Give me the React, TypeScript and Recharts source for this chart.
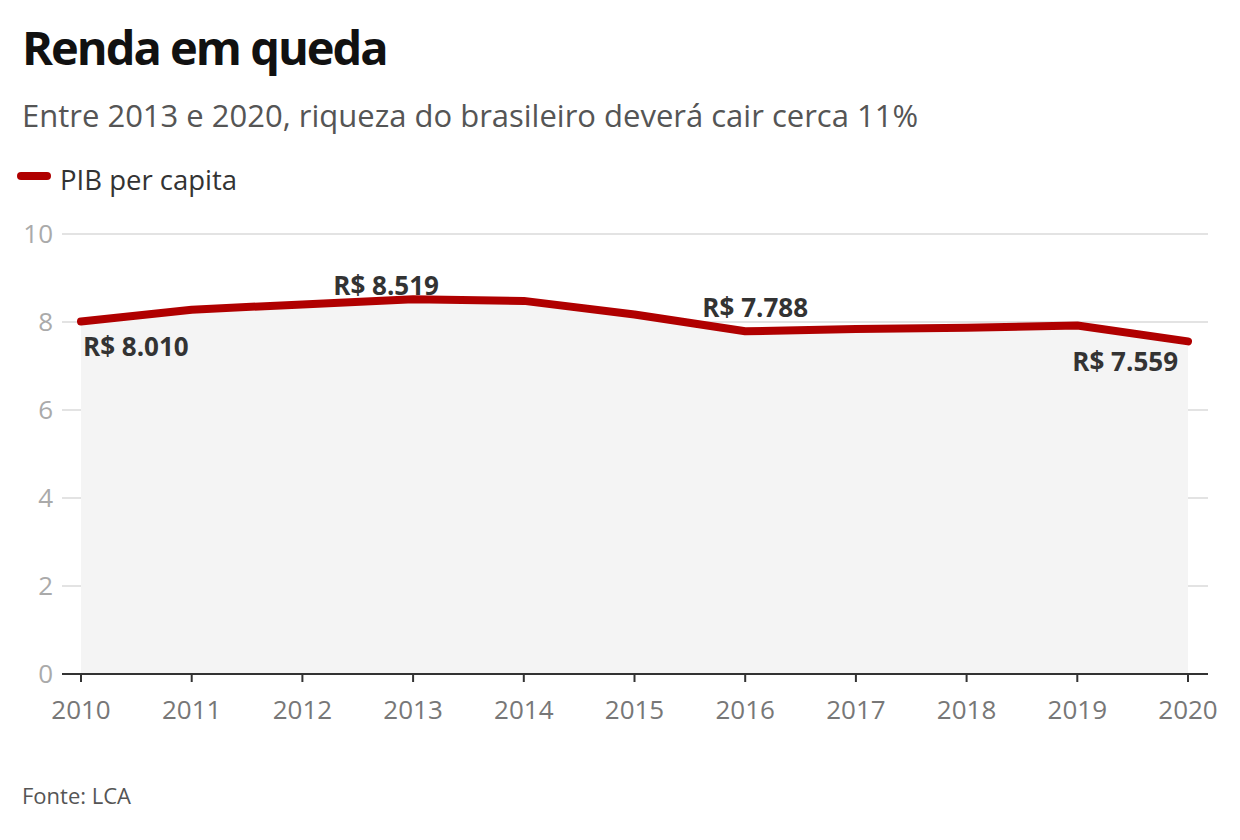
import React from "react";
import { ComposedChart, Area, XAxis, YAxis, CartesianGrid, LabelList } from "recharts";

const years = [2010, 2011, 2012, 2013, 2014, 2015, 2016, 2017, 2018, 2019, 2020];
const pibPerCapita = [8.01, 8.28, 8.4, 8.519, 8.48, 8.17, 7.788, 7.84, 7.87, 7.92, 7.559];
const valueLabels = ["R$ 8.010", "", "", "R$ 8.519", "", "", "R$ 7.788", "", "", "", "R$ 7.559"];
const yTicks = [0, 2, 4, 6, 8, 10];

const data = years.map((year, i) => ({
  year,
  pib: pibPerCapita[i],
  label: valueLabels[i],
}));

const FONT = "'Open Sans', 'Noto Sans', sans-serif";
const RED = "#b00000";

// where each annotation sits relative to its point
const labelPlacement: Record<number, { anchor: "start" | "middle" | "end"; dx: number; dy: number }> = {
  0: { anchor: "start", dx: 2, dy: 34 },
  3: { anchor: "middle", dx: -27, dy: -4 },
  6: { anchor: "middle", dx: 10, dy: -14 },
  10: { anchor: "end", dx: -10, dy: 30 },
};

function ValueLabel(props: any) {
  const { x, y, value, index } = props;
  const p = labelPlacement[index];
  if (!value || !p) return null;
  return (
    <text
      x={x + p.dx}
      y={y + p.dy}
      textAnchor={p.anchor}
      fontFamily={FONT}
      fontWeight={700}
      fontSize={26}
      fill="#333"
    >
      {value}
    </text>
  );
}

export default function App() {
  return (
    <div style={{ position: "absolute", left: 0, top: 0, width: 1240, height: 840, background: "#fff", fontFamily: FONT }}>
      <div style={{ position: "absolute", left: 22, top: 24, fontSize: 47, lineHeight: 1, fontWeight: 700, color: "#111", letterSpacing: -2 }}>
        Renda em queda
      </div>
      <div style={{ position: "absolute", left: 22, top: 100, fontSize: 31, lineHeight: 1, color: "#555", whiteSpace: "nowrap" }}>
        Entre 2013 e 2020, riqueza do brasileiro deverá cair cerca 11%
      </div>
      <div style={{ position: "absolute", left: 17, top: 172, width: 34, height: 8, borderRadius: 4, background: RED }} />
      <div style={{ position: "absolute", left: 60, top: 166, fontSize: 27.5, lineHeight: 1, color: "#333", whiteSpace: "nowrap" }}>
        PIB per capita
      </div>
      <div style={{ position: "absolute", left: 0, top: 0 }}>
        <ComposedChart width={1240} height={760} data={data} margin={{ top: 234, right: 32, left: 0, bottom: 0 }}>
          <CartesianGrid horizontal vertical={false} stroke="#e3e3e3" strokeWidth={2} />
          <XAxis
            dataKey="year"
            type="number"
            domain={[2010, 2020]}
            ticks={years}
            padding={{ left: 19, right: 20 }}
            height={86}
            axisLine={{ stroke: "#333", strokeWidth: 2 }}
            tickLine={{ stroke: "#333", strokeWidth: 2 }}
            tickSize={8}
            tickMargin={19}
            tick={{ fontSize: 26, fill: "#777", fontFamily: FONT }}
            interval={0}
          />
          <YAxis
            domain={[0, 10]}
            ticks={yTicks}
            width={62}
            axisLine={false}
            tickLine={false}
            tickSize={0}
            tickMargin={9}
            tick={{ fontSize: 26, fill: "#aaa", fontFamily: FONT }}
          />
          <Area
            type="linear"
            dataKey="pib"
            stroke={RED}
            strokeWidth={8}
            strokeLinecap="round"
            strokeLinejoin="round"
            fill="#f4f4f4"
            fillOpacity={1}
            dot={false}
            activeDot={false}
            isAnimationActive={false}
          >
            <LabelList dataKey="label" content={<ValueLabel />} />
          </Area>
        </ComposedChart>
      </div>
      <div style={{ position: "absolute", left: 22, top: 784, fontSize: 22, lineHeight: 1, color: "#555" }}>
        Fonte: LCA
      </div>
    </div>
  );
}
